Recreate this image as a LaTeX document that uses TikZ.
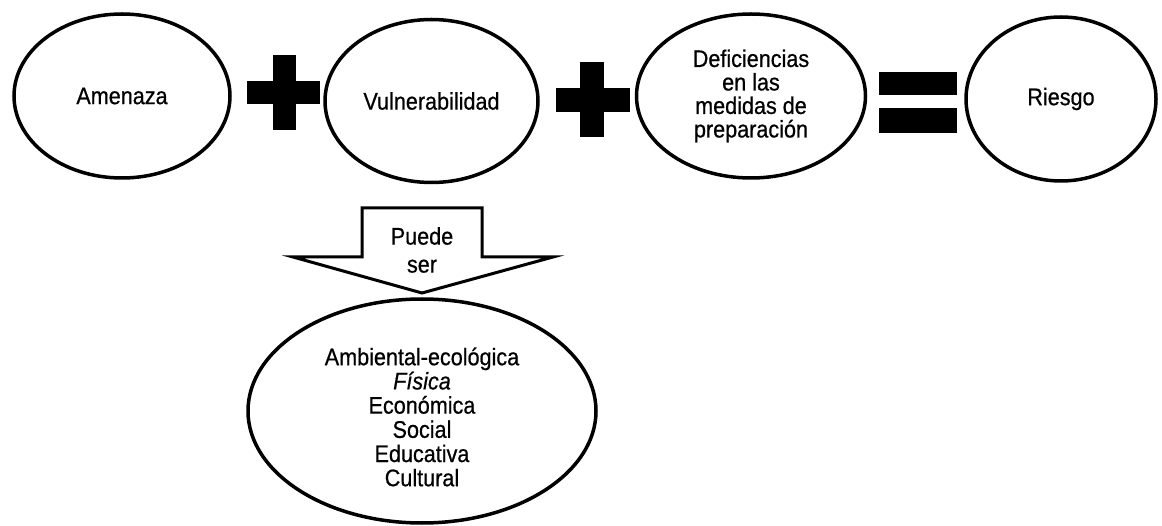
\documentclass[tikz,border=0pt]{standalone}
\usepackage{fontspec}
\setmainfont[FakeStretch=0.9,FakeBold=0.6]{Liberation Sans}
\usetikzlibrary{shapes.geometric}
\begin{document}
\begin{tikzpicture}[x=1pt,y=-1pt,
  oval/.style={draw=black, line width=3.5pt, ellipse, inner sep=0pt, align=center,
               font=\fontsize{24}{23.5}\selectfont},
  txt/.style={inner sep=0pt, align=center, font=\fontsize{24}{24.2}\selectfont},
  symb/.style={fill=black, draw=none},
  blockarrow/.style={draw=black, line width=3pt, fill=white, line join=miter}
  ]
\useasboundingbox (0,0) rectangle (1162,526);
\fill[white] (0,0) rectangle (1162,526);

% top row
\node[oval, minimum width=216pt, minimum height=164pt] (amenaza) at (122,96) {Amenaza};
\node[oval, minimum width=213pt, minimum height=163pt] (vulner) at (431.5,101) {Vulnerabilidad};
\node[oval, minimum width=229pt, minimum height=164pt] (defic) at (751,96)
  {Deficiencias\\en las\\medidas de\\preparación};
\node[oval, minimum width=190pt, minimum height=164pt] (riesgo) at (1061,99) {Riesgo};

% plus signs
\fill[symb] (247,81) rectangle (320,104);
\fill[symb] (273,55) rectangle (296,130);
\fill[symb] (556,88) rectangle (630,112);
\fill[symb] (580,62) rectangle (604,137);
% equals sign
\fill[symb] (879,72) rectangle (957,95);
\fill[symb] (879,108) rectangle (957,133);

% block arrow
\draw[blockarrow] (362,208) -- (482,208) -- (482,257) -- (553,257) -- (422,293)
  -- (293,257) -- (362,257) -- cycle;
\node[txt, font=\fontsize{24}{28}\selectfont] (puede) at (422,250) {Puede\\ser};

% bottom ellipse
\node[oval, minimum width=348pt, minimum height=224pt] (clases) at (422,411) {};
\node[txt] (tipos) at (422,417)
  {Ambiental-ecológica\\\textit{Física}\\Económica\\Social\\Educativa\\Cultural};
\end{tikzpicture}
\end{document}
